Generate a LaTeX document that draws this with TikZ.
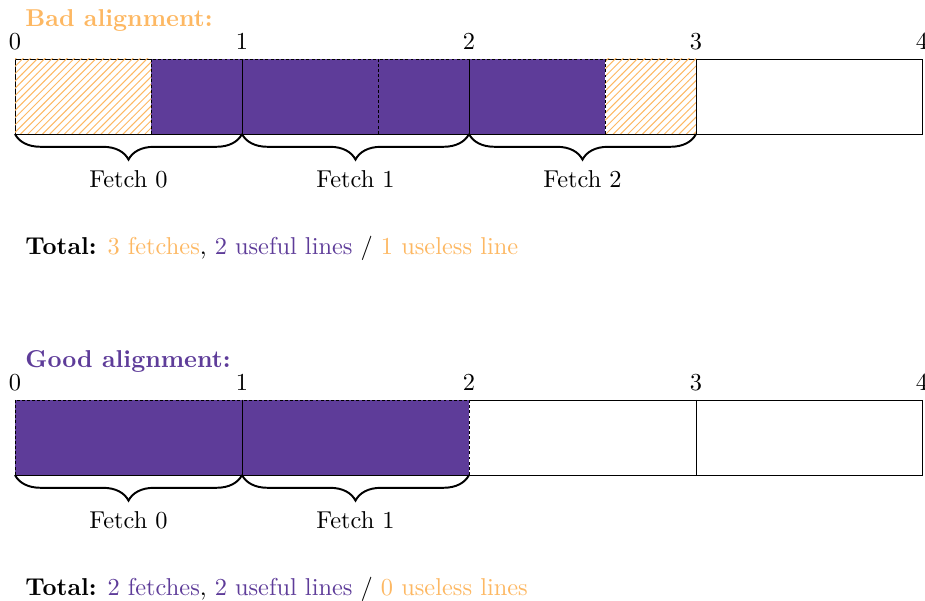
\documentclass[tikz,border=0pt]{standalone}
\usetikzlibrary{patterns,decorations.pathreplacing}
\definecolor{lorange}{HTML}{FDB863}
\definecolor{dpurple}{HTML}{5E3C99}
\begin{document}
\begin{tikzpicture}[x=0.41pt,y=-0.41pt,
  cellbox/.style={draw=black, line width=0.4pt},
  useful/.style={fill=dpurple, draw=black, dash pattern=on 1.2pt off 0.9pt, line width=0.4pt},
  useless/.style={pattern=north east lines, pattern color=lorange},
  fetchbrace/.style={draw=black, thick, decorate, decoration={brace, amplitude=10.5pt, mirror}},
  ticklbl/.style={anchor=base, inner sep=0pt},
  lbl/.style={anchor=base west, inner sep=0pt},
  fetchlbl/.style={anchor=base, inner sep=0pt}
]
\useasboundingbox (0,0) rectangle (925,601);

% ---------------- Bad alignment ----------------
\node[lbl, text=lorange, font=\bfseries] (badtitle) at (25,27) {Bad alignment:};
\foreach \i/\x in {0/15,1/242,2/469,3/696,4/922}{
  \node[ticklbl] (bt\i) at (\x,50) {\i};
  \coordinate (bu\i) at (\x,59);
  \coordinate (bd\i) at (\x,134);
}
\coordinate (bua) at (151,59);  \coordinate (bda) at (151,134);
\coordinate (bub) at (378,59);  \coordinate (bdb) at (378,134);
\coordinate (buc) at (605,59);  \coordinate (bdc) at (605,134);

\draw[cellbox] (bu0) rectangle (bd4);
\fill[useless] (bu0) rectangle (bda);
\fill[useless] (buc) rectangle (bd3);
\filldraw[useful] (bua) rectangle (bdb);
\filldraw[useful] (bub) rectangle (bdc);
\draw[cellbox] (bu1) -- (bd1);
\draw[cellbox] (bu2) -- (bd2);
\draw[cellbox] (bu3) -- (bd3);
\draw[cellbox] (bd3) -- (bd4);

\draw[fetchbrace] (bd0) -- (bd1);
\draw[fetchbrace] (bd1) -- (bd2);
\draw[fetchbrace] (bd2) -- (bd3);
\node[fetchlbl] (bf0) at (128.5,188) {Fetch 0};
\node[fetchlbl] (bf1) at (355.5,188) {Fetch 1};
\node[fetchlbl] (bf2) at (582.5,188) {Fetch 2};

\node[lbl] (badtotal) at (25,255) {\textbf{Total:} \textcolor{lorange}{3 fetches}, \textcolor{dpurple}{2 useful lines} / \textcolor{lorange}{1 useless line}};

% ---------------- Good alignment ----------------
\node[lbl, text=dpurple, font=\bfseries] (goodtitle) at (25,368) {Good alignment:};
\foreach \i/\x in {0/15,1/242,2/469,3/696,4/922}{
  \node[ticklbl] (gt\i) at (\x,391) {\i};
  \coordinate (gu\i) at (\x,400);
  \coordinate (gd\i) at (\x,475);
}
\draw[cellbox] (gu0) rectangle (gd4);
\filldraw[useful] (gu0) rectangle (gd1);
\filldraw[useful] (gu1) rectangle (gd2);
\draw[cellbox] (gu1) -- (gd1);
\draw[cellbox] (gu3) -- (gd3);

\draw[fetchbrace] (gd0) -- (gd1);
\draw[fetchbrace] (gd1) -- (gd2);
\node[fetchlbl] (gf0) at (128.5,529) {Fetch 0};
\node[fetchlbl] (gf1) at (355.5,529) {Fetch 1};

\node[lbl] (goodtotal) at (25,596) {\textbf{Total:} \textcolor{dpurple}{2 fetches}, \textcolor{dpurple}{2 useful lines} / \textcolor{lorange}{0 useless lines}};
\end{tikzpicture}
\end{document}
